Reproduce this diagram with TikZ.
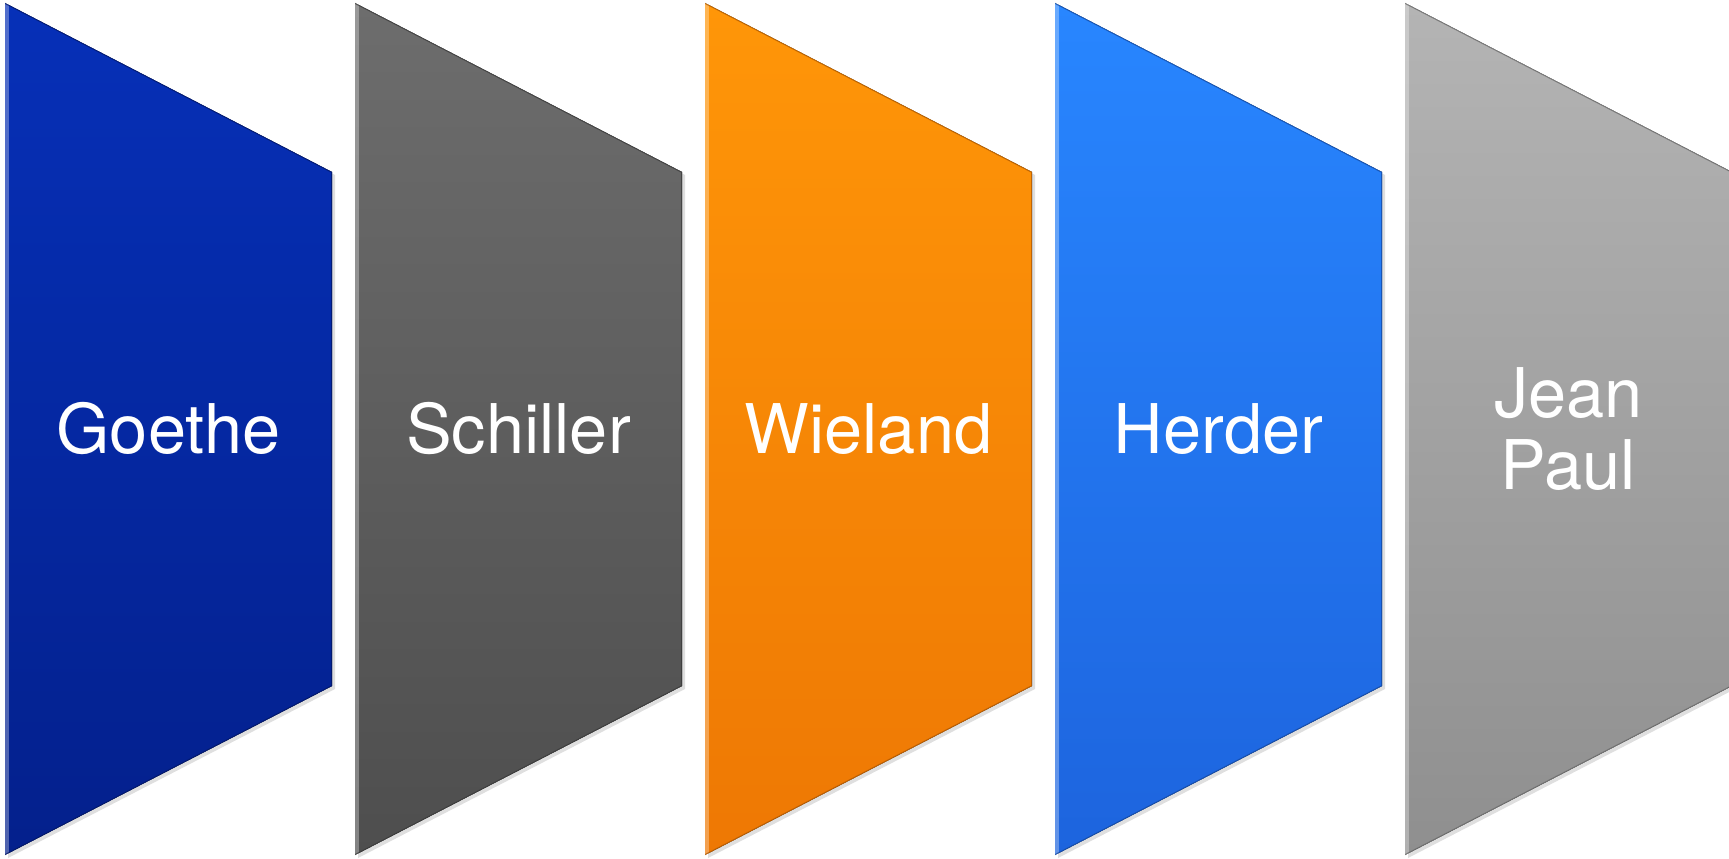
\documentclass[tikz,border=0pt]{standalone}
\usepackage{fontspec}
\setmainfont{TeX Gyre Heros}
\usetikzlibrary{shadows}

\definecolor{goetheT}{HTML}{0630B8}
\definecolor{goetheB}{HTML}{04208C}
\definecolor{schillerT}{HTML}{6D6D6D}
\definecolor{schillerB}{HTML}{4E4E4E}
\definecolor{wielandT}{HTML}{FF9608}
\definecolor{wielandB}{HTML}{EE7804}
\definecolor{herderT}{HTML}{2886FF}
\definecolor{herderB}{HTML}{1D64DE}
\definecolor{paulT}{HTML}{B4B4B4}
\definecolor{paulB}{HTML}{8F8F8F}

\begin{document}
\begin{tikzpicture}[%
    x=1cm, y=1cm,
    ]
% -------------------------------------------------
% Styles for the panels and their names
\tikzset{
  panel/.style={drop shadow={shadow xshift=0.06, shadow yshift=-0.06, opacity=0.25}},
  rim/.style={line width=1pt, draw opacity=0.7},
  hilite/.style={line width=5pt, draw=white, draw opacity=0.3},
  poet/.style={text=white, align=center, font={\fontsize{39}{41.5}\selectfont}}
}
\useasboundingbox (0,0) rectangle (34.58,17.16);
% -------------------------------------------------
% Panels: left edge full height, right edge shorter
\fill[panel, top color=goetheT, bottom color=goetheB]
  (0.1,17.10) -- (6.64,13.72) -- (6.64,3.44) -- (0.1,0.06) -- cycle;
\begin{scope}
  \clip (0.1,17.10) -- (6.64,13.72) -- (6.64,3.44) -- (0.1,0.06) -- cycle;
  \draw[hilite] (0.1,17.10) -- (0.1,0.06);
  \draw[rim, draw=goetheB!70!black] (0.1,17.10) -- (6.64,13.72) -- (6.64,3.44) -- (0.1,0.06);
\end{scope}

\fill[panel, top color=schillerT, bottom color=schillerB]
  (7.1,17.10) -- (13.64,13.72) -- (13.64,3.44) -- (7.1,0.06) -- cycle;
\begin{scope}
  \clip (7.1,17.10) -- (13.64,13.72) -- (13.64,3.44) -- (7.1,0.06) -- cycle;
  \draw[hilite] (7.1,17.10) -- (7.1,0.06);
  \draw[rim, draw=schillerB!70!black] (7.1,17.10) -- (13.64,13.72) -- (13.64,3.44) -- (7.1,0.06);
\end{scope}

\fill[panel, top color=wielandT, bottom color=wielandB]
  (14.1,17.10) -- (20.64,13.72) -- (20.64,3.44) -- (14.1,0.06) -- cycle;
\begin{scope}
  \clip (14.1,17.10) -- (20.64,13.72) -- (20.64,3.44) -- (14.1,0.06) -- cycle;
  \draw[hilite] (14.1,17.10) -- (14.1,0.06);
  \draw[rim, draw=wielandB!70!black] (14.1,17.10) -- (20.64,13.72) -- (20.64,3.44) -- (14.1,0.06);
\end{scope}

\fill[panel, top color=herderT, bottom color=herderB]
  (21.1,17.10) -- (27.64,13.72) -- (27.64,3.44) -- (21.1,0.06) -- cycle;
\begin{scope}
  \clip (21.1,17.10) -- (27.64,13.72) -- (27.64,3.44) -- (21.1,0.06) -- cycle;
  \draw[hilite] (21.1,17.10) -- (21.1,0.06);
  \draw[rim, draw=herderB!70!black] (21.1,17.10) -- (27.64,13.72) -- (27.64,3.44) -- (21.1,0.06);
\end{scope}

\fill[panel, top color=paulT, bottom color=paulB]
  (28.1,17.10) -- (34.64,13.72) -- (34.64,3.44) -- (28.1,0.06) -- cycle;
\begin{scope}
  \clip (28.1,17.10) -- (34.64,13.72) -- (34.64,3.44) -- (28.1,0.06) -- cycle;
  \draw[hilite] (28.1,17.10) -- (28.1,0.06);
  \draw[rim, draw=paulB!70!black] (28.1,17.10) -- (34.64,13.72) -- (34.64,3.44) -- (28.1,0.06);
\end{scope}
% -------------------------------------------------
% Names
\node [poet] (goethe) at (3.37,8.58) {Goethe};
\node [poet] (schiller) at (10.37,8.58) {Schiller};
\node [poet] (wieland) at (17.37,8.58) {Wieland};
\node [poet] (herder) at (24.37,8.58) {Herder};
\node [poet] (paul) at (31.37,8.58) {Jean\\Paul};
% -------------------------------------------------
\end{tikzpicture}
\end{document}
